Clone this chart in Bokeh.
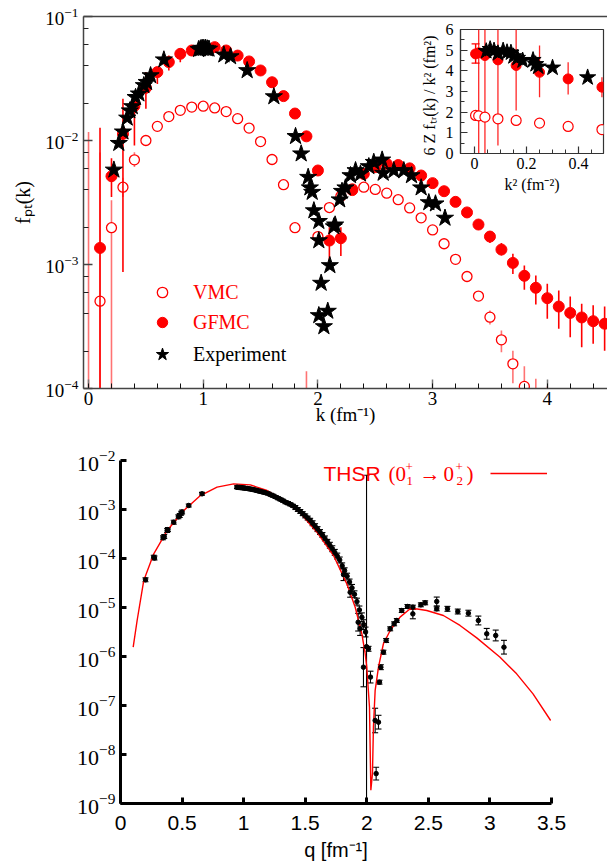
import numpy as np
from bokeh.plotting import figure
from bokeh.layouts import column
from bokeh.models import (ColumnDataSource, Range1d, LinearAxis, FixedTicker,
                          CustomJSTickFormatter, Whisker, TeeHead, Legend, LegendItem, Label)
from bokeh.core.properties import value
from bokeh.embed import file_html
from bokeh.resources import INLINE

SERIF = "Liberation Serif"
SANS = "Liberation Sans"
RED = "#ff0000"
NaN = float("nan")

# ======================= top panel data (f_pt(k)) =======================
gfmc_k = [0.1, 0.2, 0.3, 0.4, 0.5, 0.6, 0.7, 0.8, 0.9, 1.0, 1.1, 1.2, 1.3, 1.4, 1.5,
          1.6, 1.7, 1.8, 1.9, 2.0, 2.1, 2.2, 2.3, 2.4, 2.5, 2.6, 2.7, 2.8, 2.9, 3.0,
          3.1, 3.2, 3.3, 3.4, 3.5, 3.6, 3.7, 3.8, 3.9, 4.0, 4.1, 4.2, 4.3, 4.4, 4.5]
gfmc_f = [1.36e-3, 5.15e-3, 1.13e-2, 1.90e-2, 2.66e-2, 3.56e-2, 4.29e-2, 5.00e-2, 5.32e-2,
          5.66e-2, 5.66e-2, 5.32e-2, 4.84e-2, 4.34e-2, 3.67e-2, 2.95e-2, 2.28e-2, 1.65e-2,
          1.08e-2, 5.73e-3, 1.56e-3, 1.63e-3, 3.98e-3, 5.37e-3, 6.10e-3, 6.49e-3, 6.34e-3,
          5.96e-3, 5.22e-3, 4.53e-3, 3.90e-3, 3.20e-3, 2.63e-3, 2.10e-3, 1.68e-3, 1.32e-3,
          1.03e-3, 8.11e-4, 6.49e-4, 5.35e-4, 4.58e-4, 4.07e-4, 3.74e-4, 3.49e-4, 3.33e-4]
gfmc_lo = [1e-5, 3.5e-3, 8.7e-4, 9.1e-3, 1.8e-2, 2.86e-2, 3.67e-2, 4.28e-2, 4.9e-2,
           5.3e-2, 5.35e-2, 5.05e-2, 4.62e-2, 4.15e-2, 3.52e-2, 2.83e-2, 2.18e-2, 1.58e-2,
           1.03e-2, 5.3e-3, 9.5e-4, 1.17e-3, 3.7e-3, 5.1e-3, 5.85e-3, 6.25e-3, 6.1e-3,
           5.72e-3, 5.0e-3, 4.33e-3, 3.7e-3, 3.02e-3, 2.45e-3, 1.93e-3, 1.49e-3, 1.18e-3,
           8.4e-4, 6.25e-4, 4.75e-4, 3.65e-4, 3.03e-4, 2.59e-4, 2.15e-4, 2.3e-4, 2.02e-4]
gfmc_hi = [1.27e-2, 7.2e-3, 2.17e-2, 2.39e-2, 3.56e-2, 3.9e-2, 4.84e-2, 5.32e-2, 5.75e-2,
           6.05e-2, 6.0e-2, 5.6e-2, 5.06e-2, 4.52e-2, 3.82e-2, 3.07e-2, 2.38e-2, 1.72e-2,
           1.13e-2, 6.2e-3, 2.0e-3, 2.0e-3, 4.3e-3, 5.65e-3, 6.35e-3, 6.75e-3, 6.6e-3,
           6.2e-3, 5.45e-3, 4.73e-3, 4.1e-3, 3.38e-3, 2.81e-3, 2.27e-3, 1.86e-3, 1.49e-3,
           1.22e-3, 9.8e-4, 8.15e-4, 6.98e-4, 6.17e-4, 5.52e-4, 4.82e-4, 4.7e-4, 4.58e-4]

vmc_k = [0.0, 0.1, 0.2, 0.3, 0.4, 0.5, 0.6, 0.7, 0.8, 0.9, 1.0, 1.1, 1.2, 1.3, 1.4,
         1.5, 1.6, 1.7, 1.8, 1.9, 2.0, 2.1, 2.2, 2.3, 2.4, 2.5, 2.6, 2.7, 2.8, 2.9,
         3.0, 3.1, 3.2, 3.3, 3.4, 3.5, 3.6, 3.7, 3.8, 3.9, 4.0]
vmc_f = [NaN, 5.06e-4, 1.98e-3, 4.2e-3, 6.98e-3, 1.0e-2, 1.3e-2, 1.56e-2, 1.75e-2, 1.86e-2,
         1.89e-2, 1.83e-2, 1.71e-2, 1.50e-2, 1.26e-2, 9.8e-3, 7.03e-3, 4.4e-3, 1.98e-3, NaN,
         1.68e-3, 2.88e-3, 3.55e-3, 4.07e-3, 4.2e-3, 4.03e-3, 3.76e-3, 3.33e-3, 2.86e-3,
         2.38e-3, 1.9e-3, 1.47e-3, 1.1e-3, 8.0e-4, 5.56e-4, 3.76e-4, 2.47e-4, 1.58e-4,
         1.04e-4, NaN, NaN]
vmc_lo = [1e-5, 1e-5, 1e-5, 3.5e-3, 6.1e-3, 9.3e-3, 1.24e-2, 1.51e-2, 1.70e-2, 1.81e-2,
          1.84e-2, 1.78e-2, 1.66e-2, 1.46e-2, 1.22e-2, 9.5e-3, 6.8e-3, 4.2e-3, 1.85e-3, 1e-5,
          1.55e-3, 2.75e-3, 3.42e-3, 3.95e-3, 4.08e-3, 3.92e-3, 3.66e-3, 3.24e-3, 2.78e-3,
          2.31e-3, 1.84e-3, 1.42e-3, 1.05e-3, 7.6e-4, 5.2e-4, 3.28e-4, 1.96e-4, 1.1e-4,
          1e-5, 1e-5, 1e-5]
vmc_hi = [1.17e-2, 8.0e-3, 3.3e-3, 5.0e-3, 8.05e-3, 1.08e-2, 1.36e-2, 1.61e-2, 1.80e-2, 1.91e-2,
          1.94e-2, 1.88e-2, 1.76e-2, 1.54e-2, 1.30e-2, 1.01e-2, 7.25e-3, 4.6e-3, 2.1e-3, 1.38e-4,
          1.8e-3, 3.0e-3, 3.68e-3, 4.2e-3, 4.32e-3, 4.14e-3, 3.86e-3, 3.42e-3, 2.94e-3,
          2.45e-3, 1.96e-3, 1.52e-3, 1.15e-3, 8.4e-4, 5.9e-4, 4.26e-4, 2.94e-4, 2.02e-4,
          1.51e-4, 1.2e-4, 1.04e-4]

exp_k = [0.221, 0.264, 0.30, 0.337, 0.36, 0.381, 0.41, 0.439, 0.482, 0.506, 0.541, 0.657,
         0.96, 0.976, 0.99, 1.005, 1.02, 1.035, 1.05, 1.18, 1.238, 1.383, 1.616, 1.805,
         1.854, 1.915, 1.93, 1.95, 1.965, 2.008, 2.008, 2.028, 2.008, 2.086, 2.052, 2.104,
         2.139, 2.15, 2.19, 2.21, 2.24, 2.284, 2.328, 2.371, 2.444, 2.487, 2.56, 2.569,
         2.662, 2.749, 2.816, 2.9, 2.967, 3.025, 3.108]
exp_f = [5.79e-3, 9.5e-3, 1.175e-2, 1.52e-2, 1.74e-2, 1.88e-2, 2.23e-2, 2.38e-2, 2.78e-2,
         2.95e-2, 3.34e-2, 4.48e-2, 5.43e-2, 5.5e-2, 5.56e-2, 5.55e-2, 5.56e-2, 5.5e-2,
         5.47e-2, 4.91e-2, 4.75e-2, 3.67e-2, 2.26e-2, 1.08e-2, 7.82e-3, 5.06e-3, 4.16e-3,
         3.83e-3, 2.72e-3, 2.23e-3, 1.56e-3, 7.08e-4, 3.88e-4, 4.21e-4, 3.16e-4, 9.82e-4,
         2.02e-3, 2.09e-3, 3.33e-3, 3.9e-3, 4.16e-3, 5.22e-3, 5.73e-3, 5.38e-3, 6.17e-3,
         6.68e-3, 6.98e-3, 5.46e-3, 5.73e-3, 5.73e-3, 5.22e-3, 4.16e-3, 3.16e-3, 3.09e-3,
         2.37e-3]

# inset: 6 Z f_tr(k) / k^2 versus k^2
in_gfmc_k2 = [0.004, 0.016, 0.04, 0.09, 0.16, 0.25, 0.36, 0.49]
in_gfmc_v = [4.82, 4.87, 4.74, 4.53, 4.26, 3.93, 3.61, 3.21]
in_gfmc_lo = [4.37, 0.0, 0.0, 0.39, 2.08, 2.72, 2.85, 2.72]
in_gfmc_hi = [5.30, 6.0, 6.0, 6.0, 6.0, 5.22, 4.42, 3.69]
in_vmc_k2 = [0.004, 0.016, 0.04, 0.09, 0.16, 0.25, 0.36, 0.49]
in_vmc_v = [1.84, 1.82, 1.76, 1.68, 1.60, 1.47, 1.31, 1.16]
in_exp_k2 = [0.045, 0.06, 0.075, 0.09, 0.11, 0.125, 0.14, 0.15, 0.165, 0.185, 0.225,
             0.235, 0.245, 0.30, 0.435]
in_exp_v = [4.95, 5.05, 4.98, 4.85, 4.98, 4.90, 4.88, 4.70, 4.62, 4.50, 4.52, 4.32,
            4.20, 4.15, 3.68]

# ======================= bottom panel data =======================
thsr_q = [0.103, 0.135, 0.189, 0.27, 0.379, 0.514, 0.649, 0.784, 0.919, 1.054, 1.19,
          1.324, 1.46, 1.595, 1.73, 1.838, 1.906, 1.96, 1.987, 2.0, 2.022, 2.033, 2.046,
          2.054, 2.068, 2.095, 2.135, 2.19, 2.27, 2.352, 2.41, 2.487, 2.622, 2.757, 2.893,
          3.08, 3.217, 3.35, 3.493]
thsr_ratio = [1.55e-6, 5.43e-6, 3.56e-5, 1.245e-4, 3.72e-4, 9.55e-4, 1.93e-3, 2.86e-3,
              3.34e-3, 3.18e-3, 2.44e-3, 1.53e-3, 8.51e-4, 3.44e-4, 1.15e-4, 3.04e-5,
              1.01e-5, 2.9e-6, 1.14e-6, 6.05e-7, 9.2e-8, 1.86e-9, 4.07e-9, 3.63e-8, 2.04e-7,
              6.05e-7, 1.82e-6, 3.4e-6, 6.35e-6, 9.4e-6, 9.33e-6, 8.69e-6, 6.87e-6, 4.3e-6,
              2.4e-6, 9.77e-7, 4.43e-7, 1.73e-7, 4.94e-8]

# experimental cross-section ratio: log10 value and error (dex)
data_q = [0.203, 0.27, 0.276, 0.346, 0.355, 0.379, 0.385, 0.432, 0.47, 0.481, 0.492, 0.50,
          0.554, 0.662,
          0.946, 0.955, 0.965, 0.975, 0.985, 0.995, 1.005, 1.015, 1.03, 1.045, 1.06, 1.075,
          1.09, 1.105, 1.12, 1.135, 1.15, 1.165, 1.18, 1.20, 1.22, 1.24, 1.26, 1.28, 1.30,
          1.32, 1.34, 1.36, 1.38, 1.40, 1.42, 1.44, 1.46, 1.48, 1.50, 1.52, 1.54, 1.56,
          1.58, 1.60, 1.62, 1.64, 1.66, 1.68, 1.70, 1.72, 1.74, 1.76, 1.78, 1.80, 1.811,
          1.82, 1.84, 1.86, 1.865, 1.88, 1.90, 1.92, 1.93, 1.94, 1.946, 1.96, 1.973, 1.975,
          1.99, 1.998, 2.014, 2.03, 2.068, 2.076, 2.095, 2.103, 2.114, 2.135, 2.157, 2.19,
          2.222, 2.244, 2.284, 2.33, 2.374, 2.374, 2.439, 2.474, 2.568, 2.568, 2.655, 2.739,
          2.825, 2.906, 2.974, 3.047, 3.114]
data_log10 = [-4.435, -3.973, -3.99, -3.578, -3.55, -3.429, -3.41, -3.259, -3.15, -3.122,
              -3.075, -3.05, -2.918, -2.68,
              -2.544, -2.55, -2.55, -2.553, -2.556, -2.56, -2.562, -2.566, -2.572, -2.578,
              -2.585, -2.592, -2.60, -2.61, -2.62, -2.63, -2.64, -2.65, -2.66, -2.675, -2.70,
              -2.72, -2.745, -2.77, -2.795, -2.82, -2.85, -2.87, -2.895, -2.925, -2.96, -3.0,
              -3.04, -3.085, -3.13, -3.175, -3.22, -3.28, -3.34, -3.40, -3.46, -3.52, -3.59,
              -3.66, -3.73, -3.80, -3.875, -3.95, -4.03, -4.15, -4.33,
              -4.25, -4.36, -4.48, -4.69, -4.60, -4.73, -4.88, -5.30, -5.05, -5.43, -5.20,
              -6.218, -5.35, -5.50, -5.80, -5.843, -6.42, -7.306, -8.39, -7.34, -6.524,
              -6.218, -5.912, -5.673, -5.435, -5.333, -5.265, -5.061, -4.98, -4.993, -5.13,
              -4.945, -4.904, -4.877, -5.027, -5.027, -5.082, -5.116, -5.265, -5.537, -5.571,
              -5.81]
data_err = [0.04, 0.04, 0.04, 0.04, 0.04, 0.04, 0.04, 0.04, 0.04, 0.04, 0.04, 0.04, 0.03,
            0.03,
            0.03, 0.03, 0.03, 0.03, 0.03, 0.03, 0.03, 0.03, 0.03, 0.03, 0.03, 0.03, 0.03,
            0.03, 0.03, 0.03, 0.03, 0.03, 0.03, 0.03, 0.03, 0.03, 0.03, 0.03, 0.03, 0.03,
            0.03, 0.03, 0.03, 0.03, 0.04, 0.04, 0.04, 0.04, 0.04, 0.04, 0.04, 0.05, 0.05,
            0.05, 0.05, 0.05, 0.05, 0.05, 0.06, 0.06, 0.06, 0.06, 0.06, 0.06, 0.12,
            0.06, 0.06, 0.06, 0.10, 0.07, 0.07, 0.07, 0.18, 0.08, 0.14, 0.09,
            0.40, 0.10, 0.10, 3.50, 0.05, 0.12, 0.25, 0.13, 0.14, 0.04,
            0.05, 0.04, 0.04, 0.04, 0.04, 0.04, 0.04, 0.04, 0.04, 0.10,
            0.04, 0.04, 0.09, 0.04, 0.05, 0.05, 0.06, 0.09, 0.11, 0.11, 0.14]


# ======================= helpers =======================
def style_axis(ax, font, size, color="#333333", width=1.5, tick_in=9, minor_in=5,
               minor_color=None):
    ax.axis_line_color = color
    ax.axis_line_width = width
    ax.major_tick_line_color = color
    ax.major_tick_line_width = width
    ax.minor_tick_line_color = minor_color or color
    ax.minor_tick_line_width = 1
    ax.major_tick_in = tick_in
    ax.major_tick_out = 0
    ax.minor_tick_in = minor_in
    ax.minor_tick_out = 0
    ax.major_label_text_font = font
    ax.major_label_text_font_size = size
    ax.major_label_text_color = "black"
    ax.axis_label_text_font = font
    ax.axis_label_text_font_style = "normal"
    ax.axis_label_text_color = "black"


# ======================= top figure =======================
FL, FT, FB = 83, 16, 388          # main frame box (page px)
TOP_H = 440
p1 = figure(width=607, height=TOP_H, output_backend="svg", toolbar_location=None,
            y_axis_type="log", x_range=Range1d(-0.044, 4.525), y_range=Range1d(1e-4, 1e-1),
            min_border_left=FL, min_border_right=0, min_border_top=FT,
            min_border_bottom=TOP_H - FB)
p1.frame_align = False
p1.outline_line_color = None
p1.grid.visible = False

xa = p1.xaxis[0]
xa.ticker = FixedTicker(ticks=[0, 1, 2, 3, 4], minor_ticks=[round(0.2 * i, 1) for i in range(23)])
style_axis(xa, SERIF, "19px", color="#444444", minor_color="#111111")
xa.major_tick_line_color = "#777777"
xa.axis_label = "k (fm⁻¹)"
xa.axis_label_text_font_size = "19px"
xa.major_label_standoff = 3
xa.axis_label_standoff = -4

ya = p1.yaxis[0]
decades = [1e-4, 1e-3, 1e-2, 1e-1]
ya.ticker = FixedTicker(ticks=decades,
                        minor_ticks=[m * d for d in decades[:-1] for m in (2, 4, 6, 8)])
style_axis(ya, SERIF, "19px", color="#444444", minor_color="#222222")
ya.axis_label = "fₚₜ(k)"
ya.axis_label_text_font_size = "20px"
ya.major_label_standoff = 5
ya.axis_label_standoff = 8

top_line = LinearAxis(ticker=FixedTicker(ticks=[]), axis_line_color="#444444",
                      axis_line_width=1.5, major_tick_in=0, major_tick_out=0,
                      minor_tick_in=0, minor_tick_out=0, major_label_standoff=0,
                      formatter=CustomJSTickFormatter(code="return ''"))
p1.add_layout(top_line, "above")

src_v = ColumnDataSource(dict(k=vmc_k, f=vmc_f, lo=vmc_lo, hi=vmc_hi))
src_g = ColumnDataSource(dict(k=gfmc_k, f=gfmc_f, lo=gfmc_lo, hi=gfmc_hi))
src_e = ColumnDataSource(dict(k=exp_k, f=exp_f))

p1.segment(x0="k", y0="lo", x1="k", y1="hi", source=src_v, line_color=RED, line_alpha=0.55,
           line_width=1.6)
r_vmc = p1.scatter("k", "f", source=src_v, marker="circle", size=10, fill_color="white",
                   line_color=RED, line_width=1.3)
p1.segment(x0="k", y0="lo", x1="k", y1="hi", source=src_g, line_color=RED, line_width=1.6)
r_gfmc = p1.scatter("k", "f", source=src_g, marker="circle", size=11, fill_color=RED,
                    line_color=RED)
r_exp = p1.scatter("k", "f", source=src_e, marker="star", size=18, fill_color="black",
                   line_color="black")

leg_red = Legend(items=[LegendItem(label=value("VMC"), renderers=[r_vmc]),
                        LegendItem(label=value("GFMC"), renderers=[r_gfmc])],
                 location=(66, 53), glyph_width=26, glyph_height=26, label_height=20,
                 spacing=4, label_standoff=18, padding=0, margin=0,
                 border_line_color=None, background_fill_alpha=0,
                 label_text_font=SERIF, label_text_font_size="20px", label_text_color=RED)
leg_blk = Legend(items=[LegendItem(label=value("Experiment"), renderers=[r_exp])],
                 location=(63, 18), glyph_width=32, glyph_height=32, label_height=20,
                 label_standoff=15, padding=0, margin=0, border_line_color=None,
                 background_fill_alpha=0, label_text_font=SERIF, label_text_font_size="20px",
                 label_text_color="black")
p1.add_layout(leg_red, "center")
p1.add_layout(leg_blk, "center")

# ======================= inset figure (overlaid on the top figure) =======================
IL, IR, IT, IB = 460, 603, 29, 153          # inset frame box (page px)
IN_X0, IN_Y0 = 412, 22                      # inset figure top-left corner (page px)
IN_W, IN_H = 607 - IN_X0, 200 - IN_Y0
pin = figure(width=IN_W, height=IN_H, output_backend="svg", toolbar_location=None,
             x_range=Range1d(-0.054, 0.496), y_range=Range1d(0, 6),
             min_border_left=IL - IN_X0, min_border_right=IN_X0 + IN_W - IR,
             min_border_top=IT - IN_Y0, min_border_bottom=IN_Y0 + IN_H - IB)
pin.frame_align = False
pin.grid.visible = False
pin.background_fill_alpha = 0
pin.border_fill_alpha = 0
pin.outline_line_color = "#333333"
pin.outline_line_width = 1.2

ix = pin.xaxis[0]
ix.ticker = FixedTicker(ticks=[0, 0.2, 0.4], minor_ticks=[round(0.05 * i, 2) for i in range(10)])
style_axis(ix, SERIF, "16px", color="#333333", width=1.2, tick_in=7, minor_in=4)
ix.major_label_standoff = 4
ix.axis_label = "k² (fm⁻²)"
ix.axis_label_text_font_size = "16px"
ix.axis_label_standoff = 4

iy = pin.yaxis[0]
iy.ticker = FixedTicker(ticks=[0, 1, 2, 3, 4, 5, 6], minor_ticks=[0.5 * i for i in range(13)])
style_axis(iy, SERIF, "16px", color="#333333", width=1.2, tick_in=7, minor_in=4)
iy.major_label_standoff = 7
iy.axis_label = "6 Z fₜᵣ(k) / k²   (fm²)"
iy.axis_label_text_font_size = "16px"
iy.axis_label_standoff = 5

src_ig = ColumnDataSource(dict(x=in_gfmc_k2, y=in_gfmc_v, lo=in_gfmc_lo, hi=in_gfmc_hi))
src_iv = ColumnDataSource(dict(x=in_vmc_k2, y=in_vmc_v))
src_ie = ColumnDataSource(dict(x=in_exp_k2, y=in_exp_v))
src_icap = ColumnDataSource(dict(x=in_gfmc_k2[:1], lo=in_gfmc_lo[:1], hi=in_gfmc_hi[:1]))

pin.segment(x0="x", y0="lo", x1="x", y1="hi", source=src_ig, line_color=RED, line_width=1.3,
            line_alpha=0.85)
pin.add_layout(Whisker(base="x", lower="lo", upper="hi", source=src_icap, line_color=RED,
                       line_width=1.2,
                       upper_head=TeeHead(size=8, line_color=RED, line_width=1.2),
                       lower_head=TeeHead(size=8, line_color=RED, line_width=1.2)))
pin.scatter("x", "y", source=src_iv, marker="circle", size=10, fill_color="white",
            line_color=RED, line_width=1.2)
pin.scatter("x", "y", source=src_ig, marker="circle", size=10, fill_color=RED, line_color=RED)
pin.scatter("x", "y", source=src_ie, marker="star", size=17, fill_color="black",
            line_color="black")

# ======================= bottom figure =======================
BL, BR, BT, BB = 120, 551, 460, 803          # frame box in page px (fig starts at TOP_H)
p2 = figure(width=607, height=865 - TOP_H, output_backend="svg", toolbar_location=None,
            y_axis_type="log", x_range=Range1d(0, 3.5), y_range=Range1d(1e-9, 1e-2),
            min_border_left=BL, min_border_right=607 - BR, min_border_top=BT - TOP_H,
            min_border_bottom=865 - BB)
p2.frame_align = False
p2.outline_line_color = None
p2.grid.visible = False

bx = p2.xaxis[0]
bx.ticker = FixedTicker(ticks=[0, 0.5, 1, 1.5, 2, 2.5, 3, 3.5], minor_ticks=[])
bx.formatter = CustomJSTickFormatter(code="return String(tick)")
style_axis(bx, SANS, "21px", color="black", width=3, tick_in=6, minor_in=0)
bx.major_label_standoff = 12
bx.axis_label = "q [fm⁻¹]"
bx.axis_label_text_font = SANS
bx.axis_label_text_font_size = "20px"
bx.axis_label_standoff = 6

by = p2.yaxis[0]
by.ticker = FixedTicker(ticks=[1e-9, 1e-8, 1e-7, 1e-6, 1e-5, 1e-4, 1e-3, 1e-2], minor_ticks=[])
style_axis(by, SERIF, "22px", color="black", width=3, tick_in=6, minor_in=0)
by.major_label_standoff = 5

p2.add_layout(Label(x=-63, y=BB - 563, x_units="screen", y_units="screen", angle=np.pi / 2,
                    text="(dσ/dΩ)/(dσ/dΩ)", text_font=SERIF, text_font_style="italic",
                    text_font_size="20px", text_align="right", text_baseline="middle"))
p2.add_layout(Label(x=-57, y=BB - 563, x_units="screen", y_units="screen", angle=np.pi / 2,
                    text="Mott", text_font=SERIF, text_font_size="14px",
                    text_align="left", text_baseline="middle"))

ratio = 10 ** np.array(data_log10)
err = np.array(data_err)
src_d = ColumnDataSource(dict(q=data_q, r=ratio, lo=10 ** (np.array(data_log10) - err),
                              hi=10 ** (np.array(data_log10) + err)))
r_thsr = p2.line(thsr_q, thsr_ratio, line_color=RED, line_width=1.4)
p2.add_layout(Whisker(base="q", lower="lo", upper="hi", source=src_d, line_color="black",
                      line_width=1.1,
                      upper_head=TeeHead(size=6, line_color="black", line_width=1.1),
                      lower_head=TeeHead(size=6, line_color="black", line_width=1.1)))
p2.scatter("q", "r", source=src_d, marker="circle", size=4.5, fill_color="black",
           line_color="black")


# legend text "THSR (0₁⁺ → 0₂⁺)" assembled from pieces, line sample on the right
def tlabel(x, y, text, font=SERIF, size="21px"):
    p2.add_layout(Label(x=x - BL, y=BB - y, x_units="screen", y_units="screen", text=text,
                        text_font=font, text_font_size=size, text_color=RED,
                        text_align="left", text_baseline="middle"))


tlabel(323, 473, "THSR", font=SANS)
tlabel(388, 473, "(0")
tlabel(405, 466, "+", size="13px")
tlabel(406, 480, "1", size="13px")
tlabel(419, 473, "→")
tlabel(443, 473, "0")
tlabel(455, 466, "+", size="13px")
tlabel(456, 480, "2", size="13px")
tlabel(466, 473, ")")
p2.add_layout(Legend(items=[LegendItem(label=value(""), renderers=[r_thsr])],
                     location=(490 - BL, BB - 473 - 5), glyph_width=57, glyph_height=10,
                     label_height=10, label_width=1, label_standoff=0, padding=0, margin=0,
                     border_line_color=None, background_fill_alpha=0,
                     label_text_font_size="1px"), "center")

# stack: inset is pulled up over the top figure with a negative top margin
pin.margin = (IN_Y0 - TOP_H, 0, 0, IN_X0)
p2.margin = (TOP_H - (IN_Y0 + IN_H), 0, 0, 0)
layout = column(p1, pin, p2, spacing=0)
open("out.html", "w").write(file_html(layout, INLINE))
